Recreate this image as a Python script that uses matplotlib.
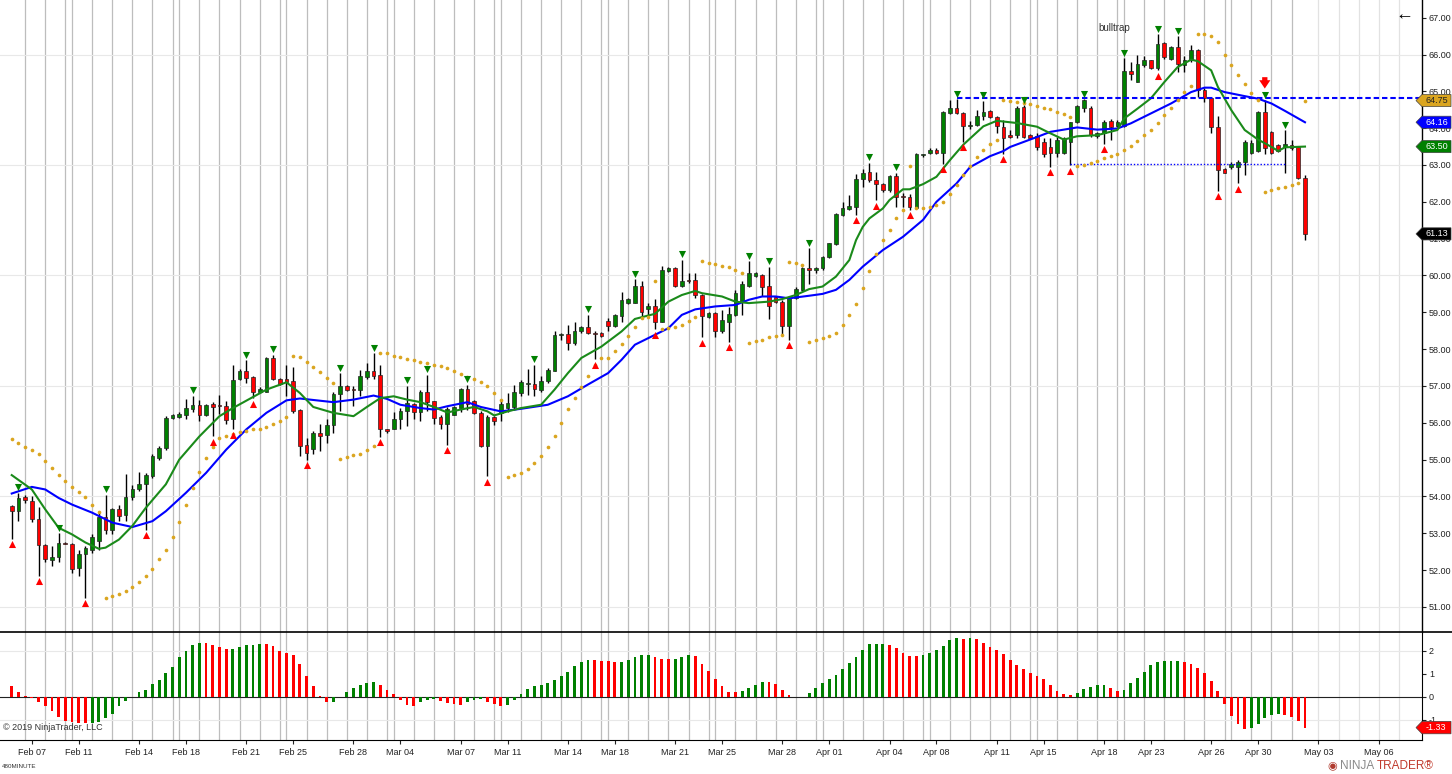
import matplotlib
matplotlib.use("Agg")
import matplotlib.pyplot as plt
import numpy as np
from matplotlib.patches import Polygon
from matplotlib.lines import Line2D
from matplotlib.transforms import blended_transform_factory

plt.rcParams['font.family'] = ['Liberation Sans', 'DejaVu Sans']

# ---- data: CL 480-minute bars, Feb 06 - May 02 2019 ----
opens = [
    53.74, 53.60, 53.98, 53.89, 53.38, 52.68, 52.27, 52.36, 52.74, 52.70,
    52.07, 52.43, 52.56, 52.79, 53.45, 53.10, 53.67, 53.51, 53.99, 54.20,
    54.33, 54.55, 55.05, 55.32, 56.13, 56.16, 56.22, 56.38, 56.47, 56.22,
    56.52, 56.47, 56.45, 56.09, 57.19, 57.42, 57.24, 56.85, 56.85, 57.76,
    57.19, 57.19, 57.13, 56.36, 55.41, 55.30, 55.72, 55.68, 55.95, 56.79,
    57.01, 56.92, 56.90, 57.24, 57.40, 57.31, 55.82, 55.83, 56.10, 56.31,
    56.52, 56.28, 56.85, 56.58, 56.15, 55.97, 56.22, 56.40, 56.92, 56.58,
    56.27, 55.38, 56.16, 56.27, 56.40, 56.43, 56.81, 57.05, 57.06, 56.90,
    57.13, 57.42, 58.38, 58.41, 58.18, 58.48, 58.60, 58.44, 58.44, 58.77,
    58.63, 58.91, 59.25, 59.25, 59.72, 59.09, 59.16, 58.75, 60.13, 60.21,
    59.72, 59.86, 59.88, 59.47, 58.87, 58.99, 58.48, 58.75, 58.93, 59.29,
    59.72, 59.99, 60.02, 59.72, 59.41, 59.29, 58.62, 59.38, 59.61, 60.20,
    60.15, 60.20, 60.49, 60.85, 61.64, 61.80, 61.87, 62.61, 62.81, 62.59,
    62.48, 62.32, 62.70, 62.14, 62.14, 61.83, 63.27, 63.33, 63.42, 63.33,
    64.42, 64.56, 64.42, 64.06, 64.08, 64.32, 64.47, 64.29, 64.04, 63.81,
    63.81, 64.58, 63.81, 63.80, 63.63, 63.50, 63.32, 63.32, 63.63, 64.17,
    64.56, 64.56, 63.80, 63.86, 64.20, 64.05, 64.05, 65.55, 65.26, 65.71,
    65.84, 65.64, 66.31, 65.89, 66.20, 65.71, 65.86, 66.13, 65.03, 64.83,
    64.04, 62.88, 62.95, 62.95, 63.09, 63.32, 63.39, 64.44, 63.90, 63.54,
    63.50, 63.54, 63.48, 62.64,
]
highs = [
    53.78, 54.10, 54.05, 54.01, 53.72, 52.72, 52.65, 53.00, 52.76, 52.74,
    52.56, 52.66, 52.97, 53.60, 54.05, 53.69, 53.78, 54.60, 54.30, 54.66,
    54.64, 55.14, 55.36, 56.18, 56.25, 56.28, 56.65, 56.74, 56.63, 56.52,
    56.56, 56.76, 56.58, 57.58, 57.46, 57.70, 57.26, 56.98, 57.78, 57.85,
    57.22, 57.58, 57.51, 56.38, 55.59, 55.77, 55.97, 56.09, 56.85, 57.35,
    57.04, 56.99, 57.44, 57.62, 57.89, 57.58, 55.84, 56.28, 56.40, 57.00,
    56.54, 56.90, 57.31, 56.60, 56.22, 56.43, 56.45, 56.95, 57.04, 56.62,
    56.31, 56.22, 56.18, 56.60, 56.81, 57.04, 57.17, 57.46, 57.58, 57.28,
    57.49, 58.48, 58.44, 58.66, 58.75, 58.63, 58.93, 58.50, 58.46, 58.84,
    58.96, 59.54, 59.38, 59.90, 59.84, 59.25, 59.36, 60.26, 60.24, 60.24,
    60.42, 60.06, 60.06, 59.50, 59.00, 59.02, 59.07, 59.15, 59.60, 59.85,
    60.38, 60.10, 60.05, 60.24, 59.45, 59.34, 59.43, 59.68, 60.24, 60.74,
    60.24, 60.53, 60.89, 61.69, 62.00, 62.18, 62.75, 62.88, 63.06, 62.82,
    62.50, 62.73, 62.79, 62.23, 62.21, 63.32, 63.30, 63.45, 63.45, 64.47,
    64.76, 64.78, 64.45, 64.20, 64.49, 64.74, 64.50, 64.33, 64.22, 63.94,
    64.60, 64.62, 63.85, 63.88, 63.72, 63.72, 63.77, 63.75, 64.17, 64.62,
    64.78, 64.60, 63.90, 64.22, 64.24, 64.22, 65.90, 65.80, 65.98, 65.95,
    65.86, 66.55, 66.34, 66.22, 66.50, 65.95, 66.25, 66.16, 65.08, 64.85,
    64.33, 62.91, 63.09, 63.13, 63.68, 63.67, 64.47, 64.76, 63.92, 63.58,
    63.94, 63.67, 63.50, 62.73,
]
lows = [
    52.85, 53.33, 53.81, 53.30, 51.85, 52.22, 52.11, 52.22, 52.70, 51.93,
    51.84, 51.25, 52.47, 52.56, 52.97, 52.99, 53.33, 53.33, 53.90, 54.15,
    53.10, 54.50, 55.00, 55.27, 56.10, 56.12, 56.10, 56.30, 56.04, 56.18,
    55.64, 56.25, 55.98, 55.82, 57.15, 57.08, 56.67, 56.80, 56.85, 57.17,
    57.04, 56.72, 56.27, 55.09, 55.00, 55.15, 55.23, 55.45, 55.72, 56.31,
    56.86, 56.45, 56.74, 57.19, 57.19, 55.62, 55.73, 55.82, 55.83, 55.92,
    56.09, 56.04, 56.31, 55.98, 55.82, 55.41, 56.20, 56.30, 56.36, 56.23,
    55.35, 54.55, 55.95, 56.04, 56.29, 56.36, 56.72, 56.76, 56.74, 56.85,
    57.08, 57.40, 58.26, 57.98, 58.12, 58.45, 58.42, 57.72, 58.34, 58.48,
    58.59, 58.75, 59.22, 59.25, 58.90, 58.94, 58.54, 58.75, 60.10, 59.70,
    59.68, 59.79, 59.40, 58.32, 58.84, 58.33, 58.45, 58.20, 58.90, 58.93,
    59.68, 59.95, 59.45, 58.81, 59.25, 58.39, 58.26, 59.36, 59.59, 59.77,
    60.08, 60.16, 60.47, 60.83, 61.62, 61.78, 61.65, 62.39, 62.55, 62.05,
    62.28, 62.28, 61.87, 61.87, 61.78, 61.82, 63.22, 63.30, 63.30, 63.04,
    64.38, 64.38, 63.63, 63.98, 64.05, 64.23, 64.27, 63.86, 63.30, 63.72,
    63.72, 63.72, 63.70, 63.40, 63.22, 62.95, 63.23, 63.30, 63.00, 64.13,
    64.45, 63.77, 63.72, 63.58, 63.67, 64.03, 64.03, 65.30, 65.26, 65.66,
    65.62, 65.58, 65.89, 65.86, 65.53, 65.53, 65.80, 64.85, 64.72, 63.86,
    62.30, 62.77, 62.90, 62.50, 62.73, 63.30, 63.36, 63.30, 63.30, 63.36,
    62.77, 63.40, 62.63, 60.97,
]
closes = [
    53.60, 53.96, 53.90, 53.38, 52.67, 52.29, 52.36, 52.74, 52.72, 52.04,
    52.43, 52.61, 52.90, 53.45, 53.10, 53.67, 53.48, 53.99, 54.19, 54.35,
    54.57, 55.09, 55.32, 56.14, 56.22, 56.25, 56.40, 56.49, 56.22, 56.49,
    56.43, 56.46, 56.07, 57.17, 57.42, 57.22, 56.85, 56.92, 57.76, 57.19,
    57.06, 57.10, 56.31, 55.36, 55.18, 55.72, 55.65, 55.95, 56.79, 56.99,
    56.90, 56.88, 57.26, 57.40, 57.26, 55.82, 55.77, 56.10, 56.31, 56.54,
    56.28, 56.85, 56.56, 56.13, 55.98, 56.38, 56.43, 56.92, 56.52, 56.27,
    55.36, 56.16, 56.04, 56.50, 56.55, 56.84, 57.10, 57.08, 56.92, 57.13,
    57.44, 58.39, 58.40, 58.18, 58.48, 58.60, 58.45, 58.42, 58.36, 58.62,
    58.92, 59.34, 59.36, 59.72, 59.02, 59.16, 58.75, 60.15, 60.21, 59.72,
    59.85, 59.85, 59.47, 58.90, 58.98, 58.48, 58.78, 58.96, 59.52, 59.77,
    60.06, 60.06, 59.70, 59.16, 59.29, 58.62, 59.38, 59.63, 60.20, 60.15,
    60.20, 60.49, 60.87, 61.67, 61.82, 61.89, 62.61, 62.77, 62.59, 62.48,
    62.32, 62.70, 62.14, 62.12, 61.87, 63.30, 63.27, 63.42, 63.33, 64.44,
    64.56, 64.40, 64.05, 64.08, 64.32, 64.44, 64.31, 64.05, 63.72, 63.75,
    64.55, 63.75, 63.72, 63.50, 63.30, 63.32, 63.68, 63.72, 64.17, 64.60,
    64.76, 63.81, 63.86, 64.17, 64.02, 64.17, 65.55, 65.46, 65.73, 65.84,
    65.64, 66.29, 65.92, 66.20, 65.73, 65.86, 66.13, 65.03, 64.83, 64.04,
    62.86, 62.79, 63.04, 63.09, 63.63, 63.60, 64.44, 63.45, 63.33, 63.39,
    63.57, 63.45, 62.66, 61.13,
]

# parabolic SAR, one dot per bar
psar = [
    55.56, 55.45, 55.35, 55.25, 55.16, 54.96, 54.78, 54.58, 54.41, 54.26,
    54.13, 53.99, 53.76, 53.57, 51.25, 51.30, 51.36, 51.42, 51.55, 51.68,
    51.84, 52.02, 52.29, 52.54, 52.90, 53.30, 53.76, 54.22, 54.66, 55.05,
    55.35, 55.59, 55.65, 55.70, 55.75, 55.79, 55.82, 55.84, 55.89, 55.97,
    56.06, 56.16, 57.82, 57.79, 57.65, 57.51, 57.37, 57.22, 57.08, 55.02,
    55.08, 55.12, 55.16, 55.26, 55.38, 57.89, 57.89, 57.82, 57.79, 57.74,
    57.70, 57.65, 57.62, 57.58, 57.53, 57.49, 57.41, 57.33, 57.24, 57.19,
    57.11, 56.99, 56.81, 56.63, 54.53, 54.58, 54.65, 54.75, 54.90, 55.10,
    55.35, 55.65, 56.00, 56.38, 56.67, 56.98, 57.28, 57.58, 57.76, 57.76,
    57.95, 58.15, 58.37, 58.59, 58.84, 58.87, 59.86, 58.55, 58.57, 58.60,
    58.66, 58.77, 58.87, 60.40, 60.35, 60.31, 60.26, 60.22, 60.15, 60.08,
    58.18, 58.21, 58.25, 58.32, 58.36, 58.39, 60.37, 60.33, 60.29, 58.19,
    58.24, 58.30, 58.35, 58.45, 58.65, 58.93, 59.23, 59.66, 60.12, 60.59,
    60.95, 61.24, 61.55, 61.78, 62.97, 61.82, 61.82, 61.87, 61.91, 62.00,
    62.20, 62.46, 62.73, 62.97, 63.21, 63.40, 63.56, 63.69, 64.76, 64.74,
    64.71, 64.69, 64.65, 64.60, 64.55, 64.51, 64.44, 64.38, 64.29, 62.97,
    63.00, 63.06, 63.11, 63.18, 63.24, 63.31, 63.40, 63.51, 63.66, 63.81,
    63.96, 64.15, 64.35, 64.56, 64.76, 64.99, 65.14, 66.57, 66.55, 66.49,
    66.34, 66.00, 65.71, 65.44, 65.21, 64.96, 64.76, 62.28, 62.32, 62.37,
    62.41, 62.46, 62.50, 64.75,
]

# fast (green) and slow (blue) averages, read at sampled bars
fast_bar = [0, 3, 5, 7, 9, 11, 13, 14, 16, 18, 20, 23, 25, 28, 31, 33, 36, 38, 41, 43,
            45, 48, 51, 53, 55, 57, 59, 61, 63, 65, 67, 69, 71, 72, 74, 76, 79, 81, 83, 85,
            88, 91, 93, 96, 98, 100, 102, 103, 106, 108, 110, 113, 115, 117, 119, 121, 123,
            125, 126, 127, 128, 130, 131, 133, 134, 136, 138, 140, 142, 145, 147, 150, 153,
            155, 157, 159, 162, 165, 166, 168, 170, 172, 174, 176, 177, 179, 180, 182, 184,
            186, 188, 189, 190, 193]
fast_val = [54.58, 54.19, 53.65, 53.15, 52.97, 52.75, 52.58, 52.61, 52.83, 53.20, 53.69,
            54.33, 55.00, 55.63, 56.18, 56.40, 56.70, 56.90, 57.10, 56.81, 56.43, 56.27,
            56.18, 56.43, 56.67, 56.72, 56.63, 56.56, 56.43, 56.28, 56.36, 56.43, 56.31,
            56.20, 56.31, 56.40, 56.49, 56.90, 57.35, 57.76, 58.07, 58.48, 58.82, 58.96,
            59.29, 59.47, 59.58, 59.52, 59.43, 59.29, 59.25, 59.29, 59.36, 59.47, 59.63,
            59.70, 59.97, 60.42, 60.96, 61.32, 61.55, 61.82, 62.05, 62.34, 62.34, 62.48,
            62.68, 63.13, 63.55, 64.05, 64.20, 64.14, 64.04, 63.86, 63.69, 63.78, 63.81,
            63.95, 64.26, 64.53, 64.81, 65.25, 65.66, 65.86, 65.82, 65.57, 65.12, 64.49,
            63.95, 63.69, 63.49, 63.38, 63.48, 63.50]
slow_bar = [0, 3, 5, 7, 9, 12, 15, 18, 21, 23, 26, 29, 32, 35, 38, 41, 43, 48, 51, 54,
            56, 58, 61, 63, 65, 68, 70, 73, 76, 80, 83, 86, 89, 91, 93, 96, 98, 100, 102,
            105, 108, 110, 112, 114, 116, 119, 121, 123, 125, 127, 130, 133, 136, 138, 141,
            143, 146, 148, 149, 153, 155, 159, 162, 165, 167, 170, 173, 176, 178, 179, 181,
            184, 186, 188, 190, 193]
slow_val = [54.08, 54.26, 54.19, 53.96, 53.78, 53.56, 53.29, 53.17, 53.33, 53.60, 54.10,
            54.64, 55.27, 55.82, 56.27, 56.61, 56.66, 56.56, 56.63, 56.74, 56.65, 56.49,
            56.40, 56.36, 56.45, 56.56, 56.43, 56.31, 56.38, 56.49, 56.72, 57.04, 57.35,
            57.71, 58.12, 58.39, 58.57, 58.93, 59.08, 59.16, 59.20, 59.34, 59.43, 59.43,
            59.38, 59.45, 59.50, 59.61, 59.88, 60.24, 60.69, 61.05, 61.51, 62.00, 62.50,
            62.94, 63.24, 63.38, 63.49, 63.76, 63.90, 64.02, 63.96, 63.99, 64.13, 64.40,
            64.67, 64.98, 65.10, 65.10, 64.98, 64.87, 64.80, 64.67, 64.47, 64.16]

# swing markers
swing_high_bars = [1, 7, 14, 27, 35, 39, 49, 54, 59, 62, 68, 78, 86, 93, 100, 110, 113, 119,
                   128, 132, 141, 145, 151, 160, 166, 171, 174, 187, 190]
swing_low_bars = [0, 4, 11, 20, 30, 33, 36, 44, 55, 65, 71, 87, 96, 103, 107, 116, 126, 129,
                  134, 139, 142, 148, 155, 158, 163, 171, 180, 183]

# oscillator histogram
osc = [
    0.49, 0.23, 0.06, -0.03, -0.23, -0.40, -0.62, -0.86, -1.05, -1.09,
    -1.12, -1.15, -1.12, -1.08, -0.92, -0.73, -0.40, -0.17, -0.01, 0.23,
    0.32, 0.58, 0.75, 1.04, 1.31, 1.74, 2.00, 2.26, 2.33, 2.33,
    2.26, 2.19, 2.09, 2.09, 2.17, 2.27, 2.27, 2.32, 2.30, 2.22,
    2.01, 1.93, 1.83, 1.44, 0.92, 0.49, 0.06, -0.23, -0.20, -0.02,
    0.20, 0.37, 0.52, 0.62, 0.66, 0.53, 0.32, 0.13, -0.14, -0.36,
    -0.40, -0.23, -0.14, -0.10, -0.17, -0.26, -0.32, -0.33, -0.23, -0.14,
    -0.09, -0.23, -0.32, -0.37, -0.35, -0.14, 0.14, 0.35, 0.47, 0.52,
    0.62, 0.75, 0.91, 1.09, 1.34, 1.53, 1.63, 1.60, 1.57, 1.57,
    1.51, 1.51, 1.63, 1.76, 1.83, 1.83, 1.74, 1.65, 1.65, 1.65,
    1.73, 1.81, 1.77, 1.45, 1.12, 0.79, 0.47, 0.22, 0.22, 0.24,
    0.40, 0.53, 0.66, 0.66, 0.58, 0.30, 0.09, 0.01, 0.01, 0.19,
    0.37, 0.62, 0.78, 0.96, 1.21, 1.47, 1.73, 2.04, 2.29, 2.29,
    2.29, 2.26, 2.13, 1.93, 1.80, 1.78, 1.83, 1.90, 2.03, 2.22,
    2.46, 2.56, 2.52, 2.56, 2.52, 2.36, 2.19, 2.04, 1.87, 1.61,
    1.41, 1.22, 1.04, 0.91, 0.79, 0.52, 0.27, 0.14, 0.09, 0.19,
    0.36, 0.45, 0.52, 0.52, 0.39, 0.24, 0.32, 0.59, 0.83, 1.09,
    1.40, 1.53, 1.57, 1.57, 1.57, 1.50, 1.42, 1.27, 1.05, 0.71,
    0.27, -0.29, -0.81, -1.18, -1.41, -1.35, -1.17, -0.92, -0.79, -0.76,
    -0.79, -0.86, -1.05, -1.33,
]
osc_color = ("RRRRRRRRRRRR GGGGGGGGGGGGGGGGG RRRR GGGGG RRRRRRRRRR GGGGGGG RRRRRR GGG "
             "RRRR GGG RRR GGGGGGGGGGGGG RRRR GGGGG RRR GGG RRRRRRR GGGG RRRRR "
             "GGGGGGGGGGGGG RRRRR GGGGGG R G RRRRRRRRRRRRRRR GGGGG RR GGGGGGGGG "
             "RRRRRRRRRR GGGGG RRRR").replace(" ", "")

# bars per session (Sunday evening = 1 bar), used for session separators
session_bars = ([3, 3, 3, 1] + [3, 3, 3, 3, 3, 1] * 9 + [3, 3, 3, 3, 1]
                + [3, 3, 3, 3, 3, 1] + [3, 3, 3, 2])
future_sessions = [195, 198, 201, 204, 207]

date_labels = ["Feb 07", "Feb 11", "Feb 14", "Feb 18", "Feb 21", "Feb 25", "Feb 28", "Mar 04",
               "Mar 07", "Mar 11", "Mar 14", "Mar 18", "Mar 21", "Mar 25", "Mar 28", "Apr 01",
               "Apr 04", "Apr 08", "Apr 11", "Apr 15", "Apr 18", "Apr 23", "Apr 26", "Apr 30",
               "May 03", "May 06"]
date_bars = [3, 10, 19, 26, 35, 42, 51, 58, 67, 74, 83, 90, 99, 106, 115, 122, 131, 138,
             147, 154, 163, 170, 179, 186, 195, 204]

resistance = 64.81
support = 63.02

for arr in (opens, highs, lows, closes, psar, osc):
    assert len(arr) == 194, len(arr)
assert len(osc_color) == 194

# ---- figure ----
W, H = 1452, 774
fig = plt.figure(figsize=(W / 100, H / 100), dpi=100)
fig.patch.set_facecolor("white")


def fx(px):
    return px / W


def fy(py):
    return 1 - py / H


ax = fig.add_axes([0, fy(632), fx(1422), 632 / H])
axh = fig.add_axes([0, fy(740), fx(1422), 108 / H], sharex=ax)

GREEN = "#008000"
RED = "#ff0000"
BLUE = "#0000ff"
GOLD = "#daa520"

o = np.array(opens)
h = np.array(highs)
l = np.array(lows)
c = np.array(closes)
x = np.arange(len(c))

# session separators
ends = np.cumsum(session_bars) - 1
for a in (ax, axh):
    for e in ends[:-1]:
        a.axvline(e, color="#bdbdbd", lw=0.9, zorder=0)
    for e in future_sessions:
        a.axvline(e, color="#e2e2e2", lw=0.9, zorder=0)

for v in range(51, 67, 3):
    ax.axhline(v, color="#e8e8e8", lw=0.8, zorder=0)

# candles
up = c >= o
ax.vlines(x, np.minimum(l, np.minimum(o, c)), np.maximum(h, np.maximum(o, c)),
          color="black", lw=1.0, zorder=3)
ax.bar(x, np.maximum(np.abs(c - o), 0.025), bottom=np.minimum(o, c), width=0.55,
       color=np.where(up, GREEN, RED), edgecolor="#222222", linewidth=0.5, zorder=4)

ax.plot(slow_bar, slow_val, color=BLUE, lw=1.5, zorder=5)
ax.plot(fast_bar, fast_val, color="#1a8a1a", lw=1.5, zorder=5)
ax.scatter(x, psar, s=7, color=GOLD, zorder=6, linewidths=0)

ax.scatter(swing_high_bars, h[swing_high_bars] + 0.15, marker="v", s=26, color=GREEN,
           zorder=7, linewidths=0)
ax.scatter(swing_low_bars, l[swing_low_bars] - 0.15, marker="^", s=26, color=RED,
           zorder=7, linewidths=0)

ax.hlines(resistance, swing_high_bars[20], 211, colors=BLUE, lw=1.5,
          linestyles=(0, (2.6, 1.4)), zorder=5)
ax.hlines(support, swing_low_bars[23], swing_high_bars[28], colors=BLUE, lw=1.0,
          linestyles=(0, (1, 1.4)), zorder=5)

ax.annotate("", xy=(187, 65.0), xytext=(187, 65.46),
            arrowprops=dict(arrowstyle="simple,head_length=0.6,head_width=0.8,tail_width=0.38",
                            color=RED, lw=0), zorder=8)
ax.text(164.6, 66.71, "bulltrap", fontsize=7, color="#333333", ha="center", va="center")

ax.set_xlim(-1.75, 210.46)
ax.set_ylim(50.32, 67.48)
ax.yaxis.tick_right()
ax.set_yticks(np.arange(51, 68))
ax.set_yticklabels([f"{v:.2f}" for v in np.arange(51, 68)])
ax.tick_params(axis="y", length=3, width=0.8, pad=2, labelsize=6.5, colors="#222222")
ax.tick_params(axis="x", bottom=False, labelbottom=False)
for s in ("left", "top", "bottom"):
    ax.spines[s].set_visible(False)
ax.spines["right"].set_linewidth(1.0)

# oscillator panel
axh.axhline(2, color="#e8e8e8", lw=0.8, zorder=0)
axh.axhline(-1, color="#e8e8e8", lw=0.8, zorder=0)
axh.axhline(0, color="#222222", lw=0.8, zorder=1)
axh.bar(x, osc, width=0.42, color=[GREEN if k == "G" else RED for k in osc_color], zorder=3)
axh.set_ylim(-1.87, 2.826)
axh.yaxis.tick_right()
axh.set_yticks([2, 1, 0, -1])
axh.set_yticklabels(["2", "1", "0", "-1"])
axh.tick_params(axis="y", length=3, width=0.8, pad=2, labelsize=6.5, colors="#222222")
axh.set_xticks(date_bars)
axh.set_xticklabels(date_labels)
axh.tick_params(axis="x", length=3, width=0.8, pad=3, labelsize=6.5, colors="#222222")
for s in ("left", "top"):
    axh.spines[s].set_visible(False)

# panel divider across full width
fig.add_artist(Line2D([0, 1], [fy(632), fy(632)], color="black", lw=1.2))


def tag(a, yv, txt, fc, tc, hh):
    tr = blended_transform_factory(a.transAxes, a.transData)
    x0, x1, x2 = 1 - 6 / 1422, 1.0, 1 + 29 / 1422
    pts = [(x0, yv), (x1, yv + hh), (x2, yv + hh), (x2, yv - hh), (x1, yv - hh)]
    a.add_patch(Polygon(pts, closed=True, transform=tr, facecolor=fc, edgecolor="#444444",
                        lw=0.5, clip_on=False, zorder=20))
    a.text(1 + 4 / 1422, yv, txt, transform=tr, color=tc, fontsize=6.5, ha="left",
           va="center", clip_on=False, zorder=21)


tag(ax, psar[-1], f"{psar[-1]:.2f}", GOLD, "#222222", 0.165)
tag(ax, slow_val[-1], f"{slow_val[-1]:.2f}", BLUE, "white", 0.165)
tag(ax, fast_val[-1], f"{fast_val[-1]:.2f}", GREEN, "white", 0.165)
tag(ax, closes[-1], f"{closes[-1]:.2f}", "black", "white", 0.165)
tag(axh, osc[-1], f"{osc[-1]:.2f}", RED, "white", 0.27)

fig.text(fx(3), fy(727), "\u00a9 2019 NinjaTrader, LLC", fontsize=6.5, color="#333333",
         ha="left", va="center")
fig.text(fx(2), fy(766), "480MINUTE", fontsize=4.5, color="#333333", ha="left", va="center")
fig.text(fx(1404), fy(15), "\u2190", fontsize=13, color="black", ha="center", va="center")
fig.text(fx(1340), fy(766), "NINJA", fontsize=8.5, color="#8a8a8a", ha="left", va="center")
fig.text(fx(1377), fy(766), "TRADER\u00ae", fontsize=8.5, color="#c0392b", ha="left",
         va="center")
fig.text(fx(1332), fy(766), "\u25c9", fontsize=8, color="#b03a2e", ha="center", va="center")

fig.savefig("out.png", dpi=100, facecolor="white")
